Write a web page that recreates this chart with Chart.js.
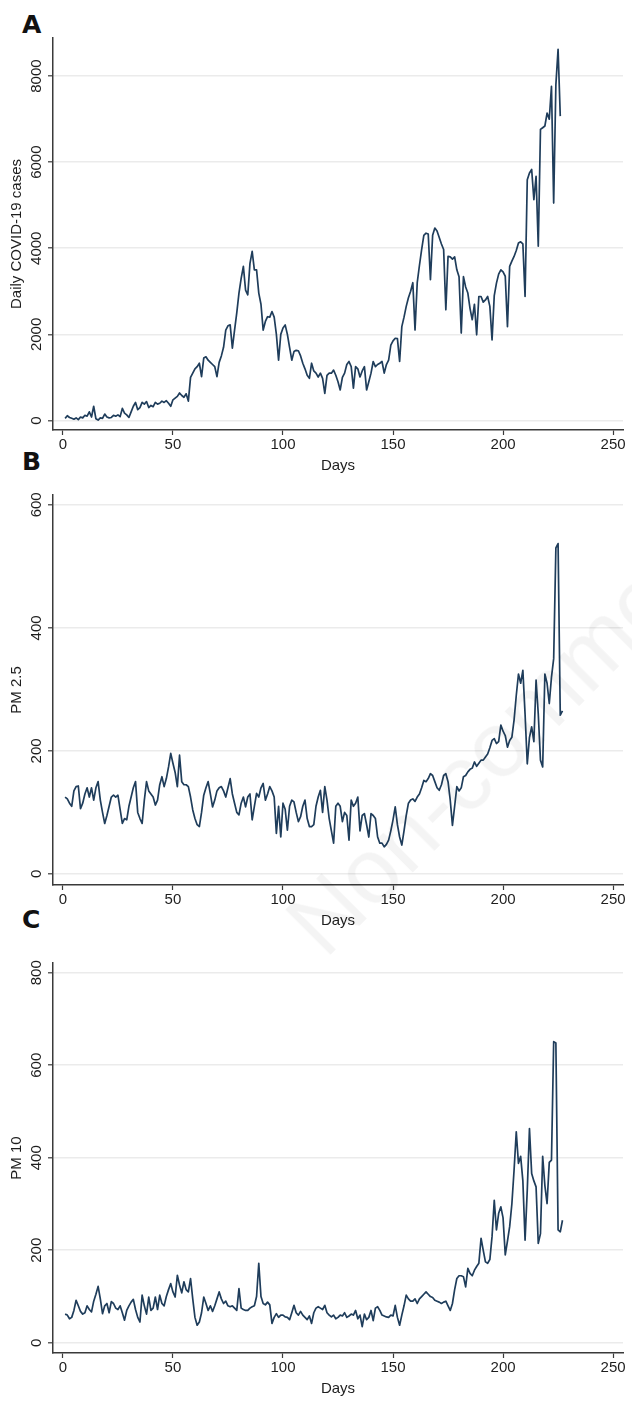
<!DOCTYPE html>
<html>
<head>
<meta charset="utf-8">
<script src="https://cdn.jsdelivr.net/npm/chart.js@4"></script>
<style>
  body { margin: 0; width: 632px; height: 1409px; background: #fff; position: relative; overflow: hidden; font-family: "Liberation Sans", Arial, sans-serif; }
  .panel { position: absolute; left: 0; width: 632px; }
  .letter { position: absolute; left: 22px; font: bold 25px "DejaVu Sans", sans-serif; line-height: 25px; color: #111; }
  #watermark { position: absolute; left: 340px; top: 870px; font: 92px "Liberation Sans", Arial, sans-serif; color: rgba(0,0,0,0.045); white-space: nowrap; transform-origin: 0 100%; transform: rotate(-45deg); pointer-events: none; }
</style>
</head>
<body>
<div class="letter" style="top:12px">A</div>
<div class="letter" style="top:449px">B</div>
<div class="letter" style="top:907px">C</div>
<div class="panel" style="top:0; height:475px"><canvas id="chart_a"></canvas></div>
<div class="panel" style="top:475px; height:455px"><canvas id="chart_b"></canvas></div>
<div class="panel" style="top:930px; height:479px"><canvas id="chart_c"></canvas></div>
<div id="watermark">Non-commercial use only</div>
<script>
// daily values, day 1 onwards
const covid_cases = [50, 110, 70, 50, 30, 60, 20, 80, 60, 120, 100, 200, 80, 330, 40, 10, 60, 50, 150, 80,
  60, 70, 120, 100, 130, 90, 280, 170, 130, 70, 200, 330, 420, 250, 300, 420, 380, 440, 300, 350,
  320, 420, 380, 400, 450, 420, 460, 400, 330, 480, 520, 560, 640, 580, 540, 620, 450, 1000, 1100, 1200,
  1250, 1330, 1020, 1450, 1480, 1400, 1350, 1300, 1250, 1020, 1350, 1500, 1700, 2100, 2200, 2220, 1680, 2100, 2500, 2960,
  3300, 3580, 3030, 2920, 3650, 3930, 3500, 3500, 2960, 2700, 2100, 2300, 2410, 2400, 2530, 2400, 2000, 1400, 2000, 2150,
  2220, 2000, 1700, 1400, 1600, 1630, 1620, 1500, 1330, 1200, 1050, 980, 1330, 1150, 1100, 1010, 1100, 980, 630, 1050,
  1100, 1100, 1170, 1050, 900, 710, 1000, 1100, 1300, 1370, 1250, 750, 1250, 1200, 1010, 1150, 1250, 710, 900, 1100,
  1370, 1250, 1300, 1330, 1370, 1100, 1300, 1400, 1750, 1850, 1910, 1900, 1370, 2180, 2400, 2650, 2850, 3000, 3200, 2100,
  3200, 3600, 3970, 4300, 4350, 4330, 3270, 4300, 4470, 4400, 4250, 4100, 3970, 2570, 3810, 3800, 3750, 3800, 3500, 3340,
  2030, 3340, 3100, 2960, 2600, 2340, 2700, 1990, 2880, 2880, 2750, 2800, 2880, 2650, 1870, 2900, 3190, 3400, 3500, 3450,
  3350, 2180, 3580, 3700, 3810, 3950, 4120, 4150, 4100, 2880, 5590, 5750, 5830, 5130, 5670, 4050, 6760, 6800, 6840, 7140,
  7000, 7760, 5050, 7800, 8620, 7070];

const pm25 = [125, 122, 115, 110, 135, 142, 143, 106, 115, 130, 140, 125, 140, 120, 140, 150, 120, 100, 82, 95,
  110, 125, 128, 125, 128, 105, 82, 90, 88, 110, 125, 140, 150, 100, 90, 82, 120, 150, 135, 130,
  125, 112, 120, 145, 158, 142, 155, 174, 196, 180, 165, 142, 193, 150, 145, 145, 142, 125, 104, 90,
  80, 77, 100, 128, 140, 150, 130, 109, 120, 135, 140, 142, 135, 125, 140, 155, 130, 115, 100, 96,
  115, 125, 109, 125, 130, 88, 110, 131, 125, 140, 147, 120, 130, 142, 135, 125, 66, 110, 60, 115,
  105, 71, 110, 120, 117, 100, 85, 93, 110, 120, 90, 77, 77, 80, 110, 125, 136, 100, 142, 120,
  90, 70, 50, 110, 115, 110, 85, 100, 95, 55, 120, 110, 115, 125, 70, 95, 98, 80, 60, 98,
  95, 90, 60, 50, 50, 44, 48, 55, 70, 88, 109, 80, 60, 47, 70, 95, 115, 120, 122, 118,
  125, 130, 140, 152, 150, 155, 163, 160, 150, 140, 136, 145, 160, 163, 150, 120, 79, 110, 142, 135,
  140, 158, 160, 166, 170, 172, 182, 175, 180, 185, 185, 190, 195, 205, 217, 220, 212, 215, 242, 232,
  225, 206, 217, 222, 250, 290, 325, 310, 331, 260, 179, 222, 239, 215, 315, 260, 185, 174, 325, 310,
  277, 320, 350, 530, 537, 258, 265];

const pm10 = [62, 60, 52, 55, 70, 92, 80, 68, 62, 65, 80, 72, 67, 90, 105, 122, 95, 63, 80, 85,
  65, 89, 85, 75, 72, 80, 65, 49, 70, 80, 88, 94, 72, 55, 45, 103, 80, 62, 99, 70,
  75, 99, 72, 103, 85, 80, 100, 115, 128, 110, 99, 146, 125, 108, 132, 115, 110, 139, 95, 55,
  38, 45, 65, 99, 85, 70, 80, 68, 80, 95, 110, 95, 85, 90, 80, 78, 80, 75, 70, 117,
  75, 72, 70, 70, 75, 78, 80, 100, 172, 100, 85, 82, 88, 82, 42, 55, 63, 55, 60, 60,
  56, 55, 50, 65, 81, 65, 60, 68, 60, 55, 50, 58, 42, 65, 75, 78, 75, 72, 81, 65,
  60, 56, 60, 52, 55, 60, 58, 65, 55, 58, 62, 60, 70, 52, 60, 35, 62, 50, 55, 70,
  48, 75, 78, 70, 60, 58, 56, 55, 60, 58, 81, 55, 38, 60, 80, 103, 95, 90, 90, 95,
  85, 95, 100, 105, 110, 105, 100, 98, 92, 90, 88, 85, 88, 90, 80, 70, 85, 115, 139, 145,
  145, 143, 121, 161, 150, 145, 157, 165, 172, 226, 200, 175, 172, 180, 230, 308, 244, 280, 294, 270,
  190, 220, 251, 300, 373, 456, 388, 403, 350, 222, 330, 463, 366, 350, 337, 215, 236, 403, 340, 301,
  390, 395, 651, 648, 244, 240, 265];

const day_ticks = [0, 50, 100, 150, 200, 250];

const line_color = '#1f3d5b';
const text_color = '#1e1e1e';
const axis_color = '#3a3a3a';
const grid_color = '#ebebeb';

function to_points(values) {
    return values.map((v, i) => ({ x: i + 1, y: v }));
}

function make_chart(canvas_id, values, y_title, y_min, y_max, y_step, pad_top, pad_bottom, label_pad) {
    return new Chart(document.getElementById(canvas_id), {
        type: 'line',
        data: {
            datasets: [{
                data: to_points(values),
                borderColor: line_color,
                borderWidth: 1.7,
                pointRadius: 0,
                tension: 0,
                borderJoinStyle: 'round'
            }]
        },
        options: {
            responsive: true,
            maintainAspectRatio: false,
            animation: false,
            layout: { padding: { top: pad_top, right: 9, bottom: pad_bottom, left: 0 } },
            plugins: { legend: { display: false }, tooltip: { enabled: false } },
            scales: {
                x: {
                    type: 'linear',
                    min: -4.5,
                    max: 254.5,
                    afterFit: function (scale) { scale.height = 45; },
                    afterBuildTicks: function (scale) { scale.ticks = day_ticks.map(v => ({ value: v })); },
                    border: { color: axis_color, width: 1.5 },
                    grid: { drawOnChartArea: false, drawTicks: true, tickLength: 5, tickColor: axis_color, tickWidth: 1.2 },
                    ticks: { color: text_color, font: { family: '"Liberation Sans", Arial', size: 15 }, padding: 1, maxRotation: 0,
                        callback: v => String(v) },
                    title: { display: true, text: 'Days', color: text_color, font: { family: '"Liberation Sans", Arial', size: 15 }, padding: { top: 0, bottom: 0 } }
                },
                y: {
                    min: y_min,
                    max: y_max,
                    afterFit: function (scale) { scale.width = 53; },
                    afterBuildTicks: function (scale) {
                        let t = [];
                        for (let v = 0; v <= y_max; v += y_step) t.push({ value: v });
                        scale.ticks = t;
                    },
                    border: { color: axis_color, width: 1.5 },
                    grid: { color: grid_color, lineWidth: 1.6, drawTicks: true, tickLength: 5, tickColor: axis_color, tickWidth: 1.2 },
                    ticks: { color: text_color, font: { family: '"Liberation Sans", Arial', size: 15 }, minRotation: 90, maxRotation: 90, crossAlign: 'center', padding: label_pad,
                        callback: v => String(v) },
                    title: { display: true, text: y_title, color: text_color, font: { family: '"Liberation Sans", Arial', size: 15 }, padding: { top: 8, bottom: 0 } }
                }
            }
        }
    });
}

make_chart('chart_a', covid_cases, 'Daily COVID-19 cases', -221, 8884, 2000, 38, 0, -5.7);
make_chart('chart_b', pm25, 'PM 2.5', -18, 616, 200, 20, 0, -1.5);
make_chart('chart_c', pm10, 'PM 10', -22, 821, 200, 33, 11, -1.5);
</script>
</body>
</html>
